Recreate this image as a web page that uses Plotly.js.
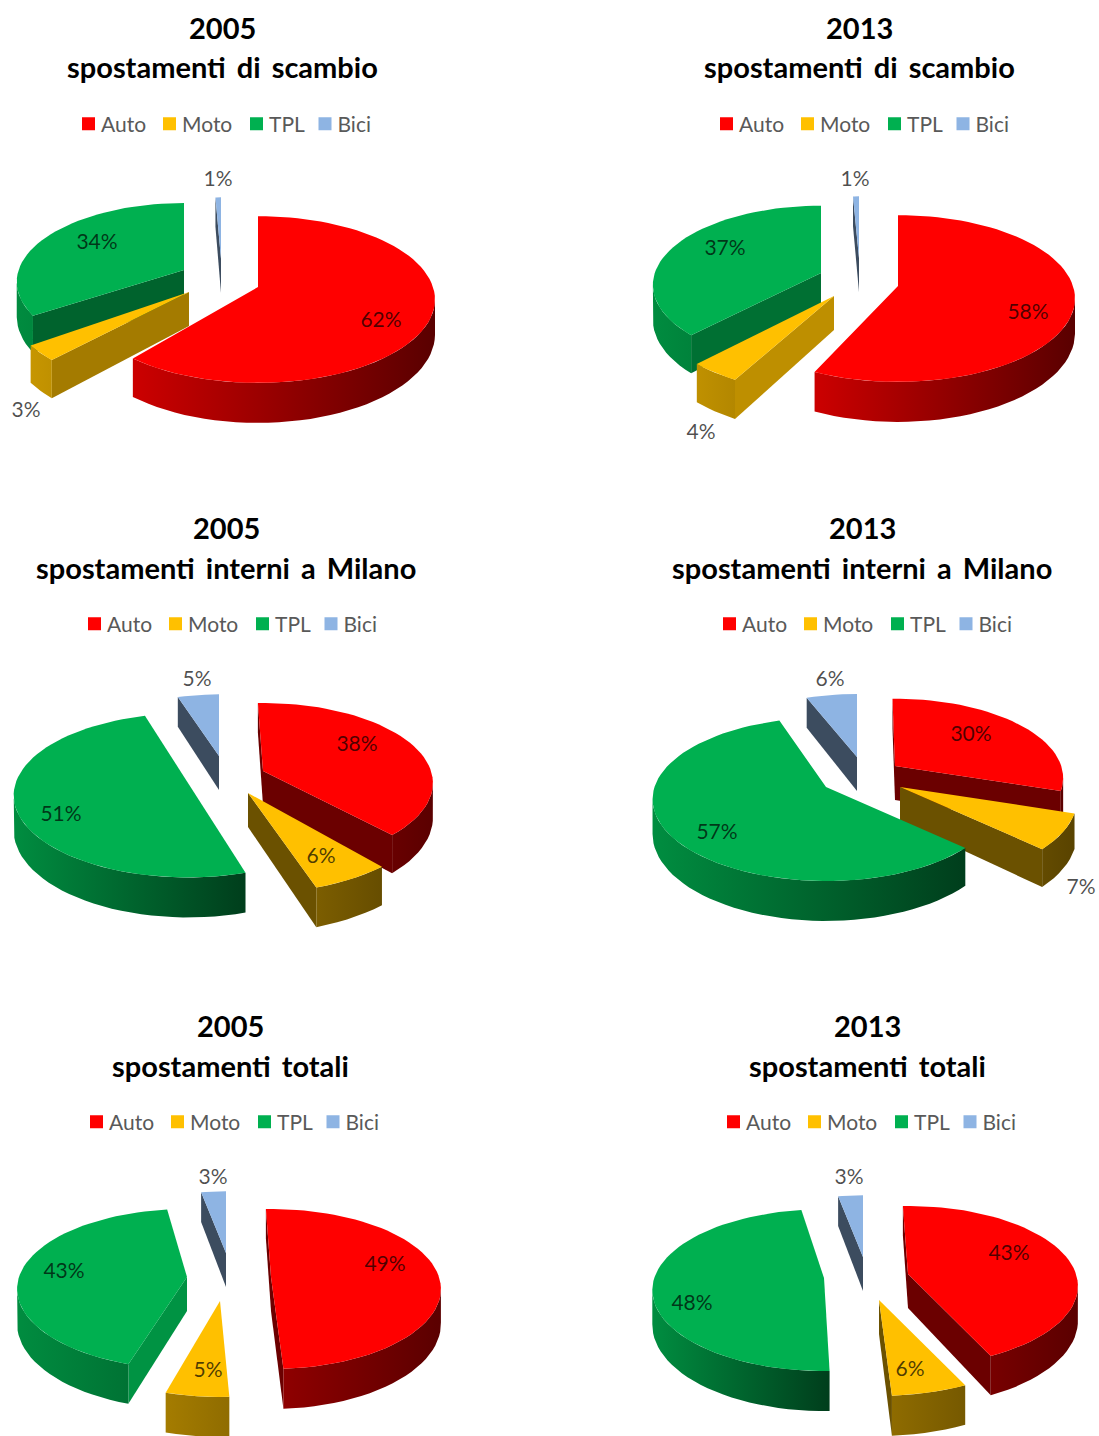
<!DOCTYPE html>
<html><head><meta charset="utf-8">
<script src="https://cdn.plot.ly/plotly-3.0.1.min.js"></script>
<style>html,body{margin:0;padding:0;background:#fff}#chart{width:1099px;height:1436px}
#chart text{font-variant-ligatures:none}
#chart .annotation text{word-spacing:4px}
#chart .infolayer text[class^="legend"]{transform:translateX(-7.5px)}
</style>
</head><body><div id="chart"></div>
<script>
// ---- data ----
const categories = ['Auto','Moto','TPL','Bici'];
const years = ['2005','2013','2005','2013','2005','2013'];
const subjects = ['spostamenti di scambio','spostamenti di scambio','spostamenti interni a Milano','spostamenti interni a Milano','spostamenti totali','spostamenti totali'];
const scambio2005 = [62,3,34,1];
const scambio2013 = [58,4,37,1];
const interni2005 = [38,6,51,5];
const interni2013 = [30,7,57,6];
const totali2005  = [49,5,43,3];
const totali2013  = [43,6,48,3];
const allValues = [scambio2005,scambio2013,interni2005,interni2013,totali2005,totali2013];

// ---- styling and placement (page pixels) ----
const W=1099,H=1436;
const topColors=[[255,0,0],[255,192,0],[0,176,80],[142,180,227]];
const cellX=[[0,549.5],[549.5,1099]], cellY=[[0,478],[478,978],[978,1436]];
const apexes=[
 [[258,287],[189,292],[184,270],[221,259]],
 [[898,286],[834,296],[821,273],[859,258]],
 [[263,771],[248,793],[188,783],[219,756]],
 [[895,766],[900,787],[826,787],[857,757]],
 [[271,1277],[220,1301],[187,1277],[226,1253]],
 [[908,1274],[879,1300],[824,1278],[863,1257]]];
const scales=[[1,1.02,.945,.87],[1,1.02,.95,.87],[.96,1.05,.985,.87],[.95,1,.98,.89],[.96,1,.96,.87],[.96,1,.97,.87]];
const angleTweaks=[
 [[0,-4],[0,0],[3,3.6],[1.2,0]],
 [[0,-4.5],[0,0],[1,3.6],[1,0]],
 [[-2,0],[3,3],[5,1.4],[0,0]],
 [[-1,0],[0,0],[0,3.5],[0,0]],
 [[-2,0],[1,1],[3,3],[0,0]],
 [[-2,0],[0,0],[2,2],[0,0]]];
const labelPos=[
 [[381,322],[26,412],[97,244],[218,181]],
 [[1028,314],[701,434],[725,250],[855,181]],
 [[357,746],[321,858],[61,816],[197,681]],
 [[971,736],[1081,889],[717,834],[830,681]],
 [[385,1266],[208,1372],[64,1273],[213,1179]],
 [[1009,1255],[910,1371],[692,1305],[849,1179]]];
const titleX=[222,859,226,862,230,867];
const titleY=[[27,67],[27,67],[527,567],[527,567],[1025,1065],[1025,1065]];
const legendCenters=[88.5,726.5,94.5,729.5,96.5,733.5];
const legendY=[124,124,624,624,1122,1122];
const legendOffsets=[0,81,168,236.5];
const R=175,K=81.5,P=.15,DEPTH=34;
const FONT='Lato, "Open Sans", sans-serif';

const rgb=(c,f)=>`rgb(${c.map(v=>Math.round(v*f)).join(',')})`;
function proj(a,apex,s){const X=Math.sin(a),Y=Math.cos(a),w=1+P*Y;
  return {x:apex[0]+R*s*X/w,y:apex[1]-K*s*Y/w,d:DEPTH/w};}

const traces=[];const layout={width:W,height:H,margin:{l:0,r:0,t:0,b:0},paper_bgcolor:'#fff',plot_bgcolor:'#fff',showlegend:true,annotations:[],hovermode:false};
const D2R=Math.PI/180;

allValues.forEach((vals,pi)=>{
  const col=pi%2,row=Math.floor(pi/2),n=pi+1;
  const xa='x'+(n===1?'':n), ya='y'+(n===1?'':n);
  const axBase={visible:false,fixedrange:true,showgrid:false,zeroline:false};
  layout['xaxis'+(n===1?'':n)]=Object.assign({},axBase,{domain:[cellX[col][0]/W,cellX[col][1]/W],range:cellX[col],anchor:ya});
  layout['yaxis'+(n===1?'':n)]=Object.assign({},axBase,{domain:[1-cellY[row][1]/H,1-cellY[row][0]/H],range:[cellY[row][1],cellY[row][0]],anchor:xa});
  [years[pi],subjects[pi]].forEach((t,li)=>layout.annotations.push({xref:'paper',yref:'paper',x:titleX[pi]/W,y:1-titleY[pi][li]/H,xanchor:'center',yanchor:'middle',showarrow:false,
    text:t,font:{family:FONT,size:29,color:'#000',weight:700}}));
  const total=vals.reduce((a,b)=>a+b,0);
  // slice angular extents come from the values
  let acc=0;const slices=vals.map((v,i)=>{const a0=acc/total*2*Math.PI;acc+=v;const a1=acc/total*2*Math.PI;
    const tw=angleTweaks[pi][i],b0=a0+tw[0]*D2R,b1=a1+tw[1]*D2R;return {i,a0:b0,a1:b1,mid:(b0+b1)/2};});
  // painter's order: back to front
  const order=slices.slice().sort((p,q)=>Math.cos(q.mid)-Math.cos(p.mid));
  order.forEach(sl=>{
    const i=sl.i,c=topColors[i],apex=apexes[pi][i],s=scales[pi][i];
    const steps=Math.max(6,Math.round((sl.a1-sl.a0)/(Math.PI/60)));
    const rim=[];for(let k=0;k<=steps;k++)rim.push(proj(sl.a0+(sl.a1-sl.a0)*k/steps,apex,s));
    const midPt=proj(sl.mid,apex,s);
    const add=(xs,ys,extra)=>traces.push(Object.assign({type:'scatter',mode:'lines',x:xs,y:ys,xaxis:xa,yaxis:ya,fill:'toself',line:{width:0},showlegend:false,hoverinfo:'skip'},extra));
    // radial walls
    [rim[0],rim[rim.length-1]].forEach(q=>{
      let nx=-(q.y-apex[1]),ny=q.x-apex[0];const L=Math.hypot(nx,ny)||1;nx/=L;ny/=L;
      const mx=midPt.x-apex[0],my=midPt.y-apex[1];
      if(nx*mx+ny*my>0){nx=-nx;ny=-ny;}
      if(ny<=0.02)return;
      const f=nx<0?.42:.42+.5*nx;
      add([apex[0],q.x,q.x,apex[0],apex[0]],[apex[1],q.y,q.y+q.d,apex[1]+DEPTH,apex[1]],{fillcolor:rgb(c,f)});
    });
    // outer rim wall: only the part turned to the viewer
    const front=[];for(let k=0;k<rim.length-1;k++){if(rim[k+1].x<rim[k].x){if(!front.length)front.push(rim[k]);front.push(rim[k+1]);}}
    if(front.length>1){
      const xs=front.map(p=>p.x),ys=front.map(p=>p.y);
      const bx=front.map(p=>p.x).reverse(),by=front.map(p=>p.y+p.d).reverse();
      const maxX=Math.max(...xs),minX=Math.min(...xs);
      const big=maxX-minX>R;
      add(xs.concat(bx,[xs[0]]),ys.concat(by,[ys[0]]),{fillgradient:{type:'horizontal',start:big?minX:apex[0]-R,stop:big?maxX:apex[0]+R,colorscale:[[0,rgb(c,.8)],[1,rgb(c,.35)]]}});
    }
    // top face
    add([apex[0]].concat(rim.map(p=>p.x),[apex[0]]),[apex[1]].concat(rim.map(p=>p.y),[apex[1]]),{fillcolor:rgb(c,1)});
  });
  // data labels
  traces.push({type:'scatter',mode:'text',x:labelPos[pi].map(p=>p[0]),y:labelPos[pi].map(p=>p[1]),xaxis:xa,yaxis:ya,
    text:vals.map(v=>v+'%'),textposition:'middle center',textfont:{family:FONT,size:21,color:'rgba(0,0,0,.7)'},showlegend:false,hoverinfo:'skip',cliponaxis:false});
  // legend entries: one native legend box per entry, so each can sit at its own spot
  categories.forEach((cat,i)=>{
    const idx=pi*4+i+1,lk='legend'+(idx===1?'':idx);
    layout[lk]={orientation:'h',x:(legendCenters[pi]+legendOffsets[i]-20)/W,y:1-legendY[pi]/H,xanchor:'left',yanchor:'middle',bgcolor:'rgba(0,0,0,0)',font:{family:FONT,size:21,color:'#595959'},itemclick:false,itemdoubleclick:false};
    traces.push({type:'scatter',mode:'markers',x:[null],y:[null],xaxis:xa,yaxis:ya,name:cat,legend:lk,showlegend:true,
      marker:{symbol:'square',size:13,color:rgb(topColors[i],1)}});
  });
});
Plotly.newPlot('chart',traces,layout,{staticPlot:true,displayModeBar:false});
</script></body></html>
